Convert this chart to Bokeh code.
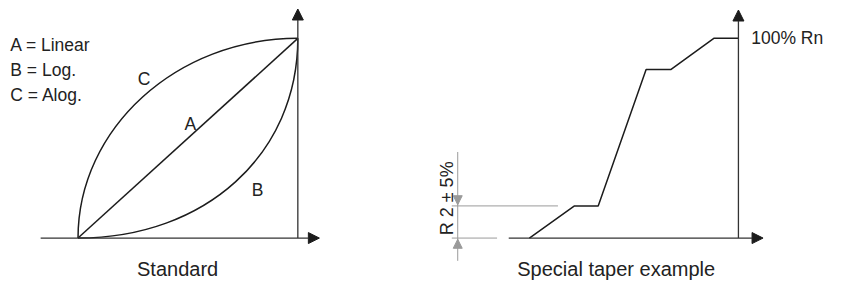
from math import pi
from bokeh.plotting import figure
from bokeh.models import Range1d, Arrow, NormalHead
from bokeh.core.properties import value
from bokeh.embed import file_html
from bokeh.resources import INLINE

# ---------------- data (rotation %, resistance %) ----------------
# Standard tapers (left panel)
linear_x = [0, 100]
linear_y = [0, 100]
# Bezier curves: start, control 1, control 2, end
alog_pts = [(0, 0), (0, 55), (45, 100), (100, 100)]     # C = Alog.
log_pts = [(0, 0), (58, 0), (100, 42), (100, 100)]      # B = Log.
legend_lines = ["A = Linear", "B = Log.", "C = Alog."]
legend_y = [96.9, 84.4, 71.8]
curve_labels = ["C", "A", "B"]
curve_label_x = [30.1, 51.1, 81.7]
curve_label_y = [79.6, 56.9, 24.2]

# Special taper (right panel)
taper_x = [4.9, 25.4, 36.2, 58.0, 69.2, 88.8, 100]
taper_y = [0, 16.1, 16.1, 84.4, 84.4, 100, 100]
r2_level = 16.1
r2_label = "R 2  \u00b1 5%"
top_label = "100% Rn"

FONT = value("Liberation Sans")
INK = "#1c1c1c"
AXIS = "#333333"
GREY = "#9a9a9a"
TXT = "#222222"

p = figure(width=839, height=283,
           x_range=Range1d(-35.27, 346.43),
           y_range=Range1d(-22.75, 118.96),
           x_axis_location=None, y_axis_location=None,
           min_border=0, toolbar_location=None, output_backend="svg")
p.extra_x_ranges = {"right": Range1d(-235.71, 145.98)}
p.grid.visible = False
p.outline_line_color = None
p.background_fill_color = "white"
p.border_fill_color = "white"


def head():
    return NormalHead(size=11, fill_color=INK, fill_alpha=1.0,
                      line_color=INK, line_width=1)


# ---------------- left panel ----------------
p.line(linear_x, linear_y, line_color=INK, line_width=1.5)
for pts in (alog_pts, log_pts):
    p.bezier(x0=[pts[0][0]], y0=[pts[0][1]], cx0=[pts[1][0]], cy0=[pts[1][1]],
             cx1=[pts[2][0]], cy1=[pts[2][1]], x1=[pts[3][0]], y1=[pts[3][1]],
             line_color=INK, line_width=1.5)

p.add_layout(Arrow(end=head(), x_start=-17, y_start=0, x_end=109.8, y_end=0,
                   line_color=AXIS, line_width=1.3))
p.add_layout(Arrow(end=head(), x_start=100, y_start=0, x_end=100, y_end=114.7,
                   line_color=AXIS, line_width=1.3))

p.text(x=[-30.8] * 3, y=legend_y, text=legend_lines, text_font=FONT,
       text_font_size="17.5px", text_color=TXT,
       text_align="left", text_baseline="alphabetic")
p.text(x=curve_label_x, y=curve_label_y, text=curve_labels, text_font=FONT,
       text_font_size="17.5px", text_color=TXT,
       text_align="center", text_baseline="alphabetic")
p.text(x=[45.3], y=[-15.4], text=["Standard"], text_font=FONT,
       text_font_size="20px", text_color=TXT,
       text_align="center", text_baseline="alphabetic")

# ---------------- right panel ----------------
p.line(taper_x, taper_y, line_color=INK, line_width=1.5, x_range_name="right")

p.add_layout(Arrow(end=head(), x_start=-4.5, y_start=0, x_end=111.2, y_end=0,
                   line_color=AXIS, line_width=1.3, x_range_name="right"))
p.add_layout(Arrow(end=head(), x_start=100, y_start=0, x_end=100, y_end=114.2,
                   line_color=AXIS, line_width=1.3, x_range_name="right"))

# dimension lines for R2
p.segment(x0=[-30.4, -30.4, -27.7], y0=[r2_level, 0, 43.1],
          x1=[17.9, -9.8, -27.7], y1=[r2_level, 0, -11.4],
          line_color=GREY, line_width=1, x_range_name="right")
p.add_layout(Arrow(end=NormalHead(size=9, fill_color=GREY, line_color=GREY, line_width=1),
                   x_start=-27.7, y_start=24, x_end=-27.7, y_end=r2_level + 0.6,
                   line_alpha=0, x_range_name="right"))
p.add_layout(Arrow(end=NormalHead(size=9, fill_color=GREY, line_color=GREY, line_width=1),
                   x_start=-27.7, y_start=-8, x_end=-27.7, y_end=-0.6,
                   line_alpha=0, x_range_name="right"))

p.text(x=[-32.6], y=[1.4], text=[r2_label], angle=pi / 2, text_font=FONT,
       text_font_size="18px", text_color=TXT,
       text_align="left", text_baseline="alphabetic", x_range_name="right")
p.text(x=[105.8], y=[100.3], text=[top_label], text_font=FONT,
       text_font_size="17.5px", text_color=TXT,
       text_align="left", text_baseline="alphabetic", x_range_name="right")
p.text(x=[44.4], y=[-15.4], text=["Special taper example"], text_font=FONT,
       text_font_size="20px", text_color=TXT,
       text_align="center", text_baseline="alphabetic", x_range_name="right")

open("out.html", "w").write(file_html(p, INLINE))
